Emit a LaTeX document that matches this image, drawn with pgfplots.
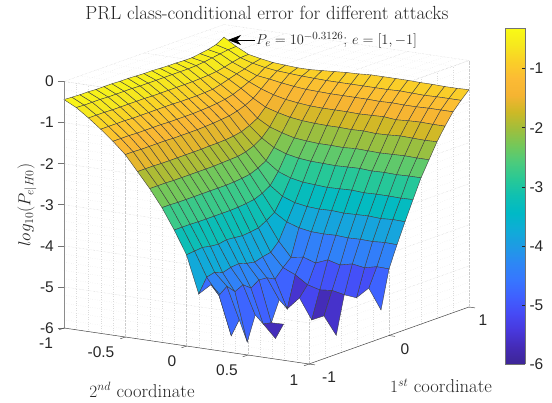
\documentclass[border=0pt]{standalone}
\usepackage{fontspec}
\newfontfamily\arial{Liberation Sans}
\usepackage{pgfplots}
\pgfplotsset{compat=1.18}
\usetikzlibrary{arrows.meta}

\pgfplotsset{
  colormap={prl}{
    rgb255=(61,38,150) rgb255=(68,43,182) rgb255=(72,56,220) rgb255=(70,74,245)
    rgb255=(63,96,255) rgb255=(55,118,255) rgb255=(45,135,245) rgb255=(30,155,228)
    rgb255=(15,172,215) rgb255=(0,185,198) rgb255=(15,192,178) rgb255=(40,200,150)
    rgb255=(75,203,125) rgb255=(115,200,90) rgb255=(160,190,60) rgb255=(205,185,38)
    rgb255=(245,180,50) rgb255=(252,187,52) rgb255=(250,207,40) rgb255=(246,232,30)
    rgb255=(249,251,21)
  }
}
\colorlet{axgray}{black!85}
\newcommand\ticks{\arial\fontsize{15.5}{17}\selectfont\color{axgray}}
\newcommand\labs{\fontsize{18.6}{20}\selectfont\color{axgray}}

\begin{document}
\begin{tikzpicture}
\begin{axis}[
  x={(80pt,28.5pt)}, y={(122.5pt,-18pt)}, z={(0pt,41.08pt)},
  xmin=-1, xmax=1, ymin=-1, ymax=1, zmin=-6, zmax=0,
  xtick={-1,0,1}, ytick={-1,-.5,0,.5,1}, ztick={-6,-5,-4,-3,-2,-1,0},
  minor x tick num=4, minor y tick num=4, minor z tick num=4,
  xticklabels={}, yticklabels={}, zticklabels={},
  grid=both,
  major grid style={densely dotted,black!20,line width=.4pt},
  minor grid style={dotted,black!14,line width=.3pt},
  axis line style={draw=none}, tick style={draw=none},
  clip=false,
  point meta min=-6, point meta max=-.3126,
]
\coordinate (L) at (axis cs:-1,-1,-6);
\addplot3[surf, shader=flat corner, draw=black!75, line width=.4pt,
  unbounded coords=jump, z buffer=sort] coordinates {
(-1,-1,-.44)(-.9,-1,-.45)(-.8,-1,-.46)(-.7,-1,-.46)(-.6,-1,-.47)(-.5,-1,-.47)(-.4,-1,-.47)(-.3,-1,-.48)(-.2,-1,-.48)(-.1,-1,-.49)(0,-1,-.5)(.1,-1,-.5)(.2,-1,-.51)(.3,-1,-.52)(.4,-1,-.52)(.5,-1,-.53)(.6,-1,-.53)(.7,-1,-.5)(.8,-1,-.47)(.9,-1,-.42)(1,-1,-.31)

(-1,-.9,-.59)(-.9,-.9,-.6)(-.8,-.9,-.6)(-.7,-.9,-.6)(-.6,-.9,-.61)(-.5,-.9,-.61)(-.4,-.9,-.61)(-.3,-.9,-.61)(-.2,-.9,-.62)(-.1,-.9,-.62)(0,-.9,-.62)(.1,-.9,-.62)(.2,-.9,-.62)(.3,-.9,-.62)(.4,-.9,-.62)(.5,-.9,-.61)(.6,-.9,-.59)(.7,-.9,-.56)(.8,-.9,-.53)(.9,-.9,-.5)(1,-.9,-.49)

(-1,-.8,-.8)(-.9,-.8,-.8)(-.8,-.8,-.8)(-.7,-.8,-.81)(-.6,-.8,-.81)(-.5,-.8,-.81)(-.4,-.8,-.81)(-.3,-.8,-.81)(-.2,-.8,-.82)(-.1,-.8,-.82)(0,-.8,-.82)(.1,-.8,-.82)(.2,-.8,-.82)(.3,-.8,-.82)(.4,-.8,-.81)(.5,-.8,-.8)(.6,-.8,-.78)(.7,-.8,-.74)(.8,-.8,-.69)(.9,-.8,-.65)(1,-.8,-.64)

(-1,-.7,-1.03)(-.9,-.7,-1.03)(-.8,-.7,-1.03)(-.7,-.7,-1.03)(-.6,-.7,-1.04)(-.5,-.7,-1.04)(-.4,-.7,-1.04)(-.3,-.7,-1.04)(-.2,-.7,-1.04)(-.1,-.7,-1.04)(0,-.7,-1.05)(.1,-.7,-1.05)(.2,-.7,-1.05)(.3,-.7,-1.04)(.4,-.7,-1.03)(.5,-.7,-.98)(.6,-.7,-.92)(.7,-.7,-.86)(.8,-.7,-.81)(.9,-.7,-.74)(1,-.7,-.7)

(-1,-.6,-1.28)(-.9,-.6,-1.28)(-.8,-.6,-1.28)(-.7,-.6,-1.29)(-.6,-.6,-1.29)(-.5,-.6,-1.29)(-.4,-.6,-1.29)(-.3,-.6,-1.3)(-.2,-.6,-1.3)(-.1,-.6,-1.3)(0,-.6,-1.3)(.1,-.6,-1.29)(.2,-.6,-1.28)(.3,-.6,-1.26)(.4,-.6,-1.23)(.5,-.6,-1.18)(.6,-.6,-1.1)(.7,-.6,-1.01)(.8,-.6,-.93)(.9,-.6,-.8)(1,-.6,-.75)

(-1,-.5,-1.56)(-.9,-.5,-1.56)(-.8,-.5,-1.57)(-.7,-.5,-1.57)(-.6,-.5,-1.57)(-.5,-.5,-1.57)(-.4,-.5,-1.58)(-.3,-.5,-1.58)(-.2,-.5,-1.58)(-.1,-.5,-1.58)(0,-.5,-1.57)(.1,-.5,-1.56)(.2,-.5,-1.54)(.3,-.5,-1.52)(.4,-.5,-1.47)(.5,-.5,-1.4)(.6,-.5,-1.3)(.7,-.5,-1.14)(.8,-.5,-.97)(.9,-.5,-.84)(1,-.5,-.77)

(-1,-.4,-1.93)(-.9,-.4,-1.93)(-.8,-.4,-1.93)(-.7,-.4,-1.94)(-.6,-.4,-1.94)(-.5,-.4,-1.94)(-.4,-.4,-1.94)(-.3,-.4,-1.94)(-.2,-.4,-1.94)(-.1,-.4,-1.93)(0,-.4,-1.93)(.1,-.4,-1.92)(.2,-.4,-1.9)(.3,-.4,-1.86)(.4,-.4,-1.78)(.5,-.4,-1.67)(.6,-.4,-1.47)(.7,-.4,-1.24)(.8,-.4,-1.02)(.9,-.4,-.86)(1,-.4,-.79)

(-1,-.3,-2.3)(-.9,-.3,-2.3)(-.8,-.3,-2.3)(-.7,-.3,-2.31)(-.6,-.3,-2.31)(-.5,-.3,-2.31)(-.4,-.3,-2.31)(-.3,-.3,-2.31)(-.2,-.3,-2.31)(-.1,-.3,-2.3)(0,-.3,-2.29)(.1,-.3,-2.28)(.2,-.3,-2.24)(.3,-.3,-2.16)(.4,-.3,-2.04)(.5,-.3,-1.84)(.6,-.3,-1.56)(.7,-.3,-1.31)(.8,-.3,-1.06)(.9,-.3,-.88)(1,-.3,-.79)

(-1,-.2,-2.72)(-.9,-.2,-2.72)(-.8,-.2,-2.73)(-.7,-.2,-2.73)(-.6,-.2,-2.73)(-.5,-.2,-2.73)(-.4,-.2,-2.73)(-.3,-.2,-2.73)(-.2,-.2,-2.73)(-.1,-.2,-2.72)(0,-.2,-2.7)(.1,-.2,-2.67)(.2,-.2,-2.59)(.3,-.2,-2.48)(.4,-.2,-2.23)(.5,-.2,-1.94)(.6,-.2,-1.63)(.7,-.2,-1.35)(.8,-.2,-1.09)(.9,-.2,-.89)(1,-.2,-.77)

(-1,-.1,-3.22)(-.9,-.1,-3.22)(-.8,-.1,-3.22)(-.7,-.1,-3.23)(-.6,-.1,-3.23)(-.5,-.1,-3.23)(-.4,-.1,-3.23)(-.3,-.1,-3.23)(-.2,-.1,-3.22)(-.1,-.1,-3.2)(0,-.1,-3.17)(.1,-.1,-3.09)(.2,-.1,-2.97)(.3,-.1,-2.7)(.4,-.1,-2.34)(.5,-.1,-2.02)(.6,-.1,-1.67)(.7,-.1,-1.38)(.8,-.1,-1.1)(.9,-.1,-.9)(1,-.1,-.75)

(-1,0,-3.78)(-.9,0,-3.76)(-.8,0,-3.74)(-.7,0,-3.78)(-.6,0,-3.8)(-.5,0,-3.76)(-.4,0,-3.78)(-.3,0,-3.8)(-.2,0,-3.78)(-.1,0,-3.75)(0,0,-3.64)(.1,0,-3.51)(.2,0,-3.19)(.3,0,-2.81)(.4,0,-2.4)(.5,0,-2.05)(.6,0,-1.69)(.7,0,-1.39)(.8,0,-1.11)(.9,0,-.9)(1,0,-.73)

(-1,.1,-4.69)(-.9,.1,-4.35)(-.8,.1,-4.3)(-.7,.1,-4.38)(-.6,.1,-4.32)(-.5,.1,-4.3)(-.4,.1,-4.36)(-.3,.1,-4.4)(-.2,.1,-4.34)(-.1,.1,-4.3)(0,.1,-4.1)(.1,.1,-3.7)(.2,.1,-3.3)(.3,.1,-2.87)(.4,.1,-2.43)(.5,.1,-2.07)(.6,.1,-1.7)(.7,.1,-1.39)(.8,.1,-1.11)(.9,.1,-.9)(1,.1,-.72)

(-1,.2,-4.42)(-.9,.2,-4.75)(-.8,.2,-4.6)(-.7,.2,-4.8)(-.6,.2,-4.7)(-.5,.2,-4.85)(-.4,.2,-4.72)(-.3,.2,-4.74)(-.2,.2,-4.84)(-.1,.2,-4.63)(0,.2,-4.45)(.1,.2,-3.8)(.2,.2,-3.35)(.3,.2,-2.89)(.4,.2,-2.44)(.5,.2,-2.07)(.6,.2,-1.7)(.7,.2,-1.39)(.8,.2,-1.11)(.9,.2,-.9)(1,.2,-.7)

(-1,.3,-4.7)(-.9,.3,-5.69)(-.8,.3,-5.37)(-.7,.3,-5.98)(-.6,.3,-5.39)(-.5,.3,-5.68)(-.4,.3,-5.72)(-.3,.3,-5.23)(-.2,.3,-5.52)(-.1,.3,-4.76)(0,.3,-4.4)(.1,.3,-3.85)(.2,.3,-3.37)(.3,.3,-2.91)(.4,.3,-2.45)(.5,.3,-2.08)(.6,.3,-1.71)(.7,.3,-1.4)(.8,.3,-1.11)(.9,.3,-.9)(1,.3,-.7)

(-1,.4,nan)(-.9,.4,nan)(-.8,.4,nan)(-.7,.4,nan)(-.6,.4,nan)(-.5,.4,-5.99)(-.4,.4,-5.71)(-.3,.4,nan)(-.2,.4,-5.21)(-.1,.4,-4.96)(0,.4,-4.5)(.1,.4,-3.86)(.2,.4,-3.36)(.3,.4,-2.9)(.4,.4,-2.44)(.5,.4,-2.06)(.6,.4,-1.7)(.7,.4,-1.39)(.8,.4,-1.12)(.9,.4,-.9)(1,.4,-.7)

(-1,.5,nan)(-.9,.5,nan)(-.8,.5,nan)(-.7,.5,nan)(-.6,.5,nan)(-.5,.5,nan)(-.4,.5,nan)(-.3,.5,nan)(-.2,.5,-5.7)(-.1,.5,-5.04)(0,.5,-4.38)(.1,.5,-3.85)(.2,.5,-3.38)(.3,.5,-2.89)(.4,.5,-2.43)(.5,.5,-2.07)(.6,.5,-1.72)(.7,.5,-1.38)(.8,.5,-1.11)(.9,.5,-.89)(1,.5,-.7)

(-1,.6,nan)(-.9,.6,nan)(-.8,.6,nan)(-.7,.6,nan)(-.6,.6,nan)(-.5,.6,nan)(-.4,.6,nan)(-.3,.6,nan)(-.2,.6,-5.56)(-.1,.6,-5.01)(0,.6,-4.46)(.1,.6,-3.87)(.2,.6,-3.37)(.3,.6,-2.91)(.4,.6,-2.45)(.5,.6,-2.08)(.6,.6,-1.71)(.7,.6,-1.41)(.8,.6,-1.12)(.9,.6,-.9)(1,.6,-.71)

(-1,.7,nan)(-.9,.7,nan)(-.8,.7,nan)(-.7,.7,nan)(-.6,.7,nan)(-.5,.7,nan)(-.4,.7,nan)(-.3,.7,nan)(-.2,.7,-5.99)(-.1,.7,-5.07)(0,.7,-4.39)(.1,.7,-3.86)(.2,.7,-3.36)(.3,.7,-2.9)(.4,.7,-2.44)(.5,.7,-2.07)(.6,.7,-1.69)(.7,.7,-1.39)(.8,.7,-1.12)(.9,.7,-.91)(1,.7,-.71)

(-1,.8,nan)(-.9,.8,nan)(-.8,.8,nan)(-.7,.8,nan)(-.6,.8,nan)(-.5,.8,nan)(-.4,.8,nan)(-.3,.8,nan)(-.2,.8,nan)(-.1,.8,-5.1)(0,.8,-4.44)(.1,.8,-3.87)(.2,.8,-3.38)(.3,.8,-2.9)(.4,.8,-2.45)(.5,.8,-2.06)(.6,.8,-1.7)(.7,.8,-1.38)(.8,.8,-1.11)(.9,.8,-.9)(1,.8,-.72)

(-1,.9,nan)(-.9,.9,nan)(-.8,.9,nan)(-.7,.9,nan)(-.6,.9,nan)(-.5,.9,nan)(-.4,.9,nan)(-.3,.9,nan)(-.2,.9,nan)(-.1,.9,-4.82)(0,.9,-4.37)(.1,.9,-3.85)(.2,.9,-3.36)(.3,.9,-2.91)(.4,.9,-2.44)(.5,.9,-2.07)(.6,.9,-1.71)(.7,.9,-1.39)(.8,.9,-1.11)(.9,.9,-.9)(1,.9,-.72)

(-1,1,nan)(-.9,1,nan)(-.8,1,nan)(-.7,1,nan)(-.6,1,nan)(-.5,1,nan)(-.4,1,nan)(-.3,1,nan)(-.2,1,nan)(-.1,1,-5.31)(0,1,-4.38)(.1,1,-3.86)(.2,1,-3.37)(.3,1,-2.9)(.4,1,-2.44)(.5,1,-2.07)(.6,1,-1.7)(.7,1,-1.39)(.8,1,-1.11)(.9,1,-.9)(1,1,-.71)
};
\end{axis}

% colorbar
\begin{axis}[
  at={(L)}, xshift=441pt, yshift=-36pt, anchor=south west,
  scale only axis, width=20pt, height=336pt,
  view={0}{90},
  xmin=0, xmax=1, ymin=-6, ymax=-.3126,
  xtick=\empty,
  ytick={-6,-5,-4,-3,-2,-1}, yticklabels={-6,-5,-4,-3,-2,-1},
  ytick pos=right, yticklabel pos=right, tick align=inside,
  yticklabel style={font=\ticks, xshift=1pt},
  major tick length=3pt, tick style={axgray,line width=.4pt},
  axis line style={black!55,line width=.6pt},
  point meta min=-6, point meta max=-.3126,
]
\addplot3[surf, shader=interp, point meta=y] coordinates {
(0,-6,0)(1,-6,0)

(0,-.3126,0)(1,-.3126,0)
};
\end{axis}

% coordinates in reference pixels from here on
\begin{scope}[shift={(L)},xshift=-64pt,yshift=328pt,x=1pt,y=-1pt]
\path[use as bounding box] (0,0) rectangle (552,403);
% axis lines and ticks
\draw[black!45,line width=.9pt] (64,81.5)--(64,328);
\foreach \yy in {81.5,122.6,163.7,204.7,245.8,286.9,328}
  \draw[black!55,line width=.5pt] (58,\yy)--(64,\yy);
\draw[black!70,line width=.5pt] (64,328)--(309,364)--(469,307);
\foreach \xx/\yy in {64/328,125.25/337,186.5/346,247.75/355,309/364}
  \draw[black!70,line width=.5pt] (\xx,\yy)--++(-5,1.8);
\foreach \xx/\yy in {309/364,389/335.5,469/307}
  \draw[black!70,line width=.5pt] (\xx,\yy)--++(6,.9);
% tick labels
\foreach \yy/\t in {81.5/0,122.6/-1,163.7/-2,204.7/-3,245.8/-4,286.9/-5,328/-6}
  \node[anchor=east,inner sep=0pt,font=\ticks] at (54,\yy) {\t};
\node[font=\ticks] at (46,343) {-1};
\node[font=\ticks] at (101,352) {-0.5};
\node[font=\ticks] at (172,361) {0};
\node[font=\ticks] at (227,370) {0.5};
\node[font=\ticks] at (294,380) {1};
\node[font=\ticks] at (329,377) {-1};
\node[font=\ticks] at (405,349) {0};
\node[font=\ticks] at (483,320) {1};
% labels and title
\node[font=\labs] at (142,390) {$2^{nd}$ coordinate};
\node[font=\labs] at (441,386) {$1^{st}$ coordinate};
\node[font=\fontsize{17.5}{19}\selectfont\color{axgray},rotate=90] at (27,205) {$log_{10}(P_{e|H0})$};
\node[font=\fontsize{19}{21}\selectfont\color{axgray}] at (267,13) {PRL class-conditional error for different attacks};
\node[font=\fontsize{15.7}{18}\selectfont\color{axgray},anchor=west,inner sep=0pt] at (256,40) {$P_e=10^{-0.3126}$; $e=[1,-1]$};
\draw[black,line width=.6pt,-{Stealth[length=13pt,width=10pt,inset=4pt]}] (255,40)--(228,40);
\end{scope}
\end{tikzpicture}
\end{document}
